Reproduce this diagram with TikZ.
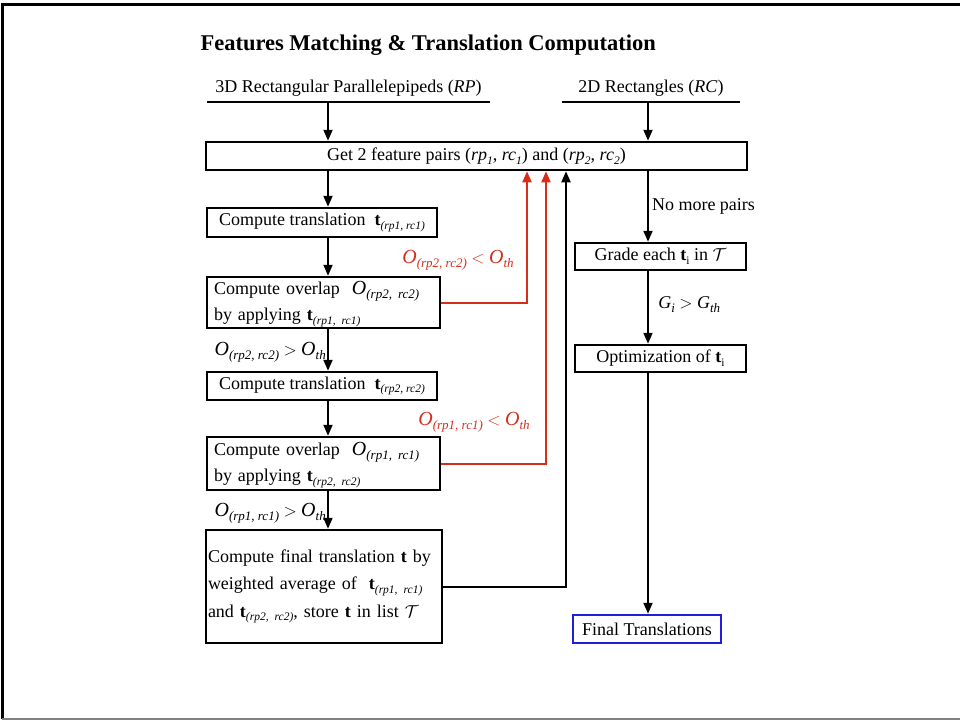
\documentclass[tikz,border=0pt]{standalone}
\usepackage{fontspec}
\setmainfont{Liberation Serif}
\usetikzlibrary{arrows.meta}
\definecolor{backred}{RGB}{215,45,25}
\definecolor{endblue}{RGB}{30,30,225}
\newcommand\lowsub[1]{\raisebox{-0.45ex}{\fontsize{11.5}{12}\selectfont\itshape #1}}
\newcommand\osub[1]{\raisebox{-0.45ex}{\fontsize{13}{14}\selectfont\itshape #1}}
\newcommand\tv{\textbf{t}}
\newcommand\Ov{{\fontsize{20}{22}\selectfont\textit{O}}}
\newcommand\Tlist{$\mathcal{T}$}
\tikzset{>={Triangle[length=11pt,width=9pt]}}
\tikzset{
  stepbox/.style={draw,line width=2.5pt,rectangle,inner sep=0pt},
  twoline/.style={stepbox,align=left,font=\fontsize{18}{26}\selectfont},
  flow/.style={->,line width=2pt},
  back/.style={->,line width=2pt,backred},
  condlbl/.style={inner sep=0pt}
}

\begin{document}
\begin{tikzpicture}[x=1pt,y=-1pt,font=\fontsize{18}{22}\selectfont]
    \useasboundingbox (0,0) rectangle (960,721);
    % frame
    \draw[line width=3pt] (960,4) -- (2,4) -- (2,719);
    \draw[line width=2pt,gray] (2,719) -- (960,719);
    \node[anchor=west,font=\fontsize{22.5}{26}\selectfont\bfseries] (title) at (197,45)
      {Features Matching \& Translation Computation};
    % inputs
    \node (rphead) at (348.5,88) {3D Rectangular Parallelepipeds (\textit{RP})};
    \node (rchead) at (651,88) {2D Rectangles (\textit{RC})};
    \draw[line width=2pt] (207,102) -- (490,102);
    \draw[line width=2pt] (562,102) -- (740,102);
    \coordinate (rpbar) at (328,102);
    \coordinate (rcbar) at (648,102);
    \coordinate (lx) at (328,0);
    \coordinate (rx) at (648,0);
    % boxes
    \node[stepbox,minimum width=541pt,minimum height=28pt] (getp) at (476.5,156)
      {Get 2 feature pairs (\textit{rp}\lowsub{1}, \textit{rc}\lowsub{1}) and (\textit{rp}\lowsub{2}, \textit{rc}\lowsub{2})};
    \node[stepbox,minimum width=230pt,minimum height=29pt] (tone) at (322,222.5)
      {Compute translation\ \ \tv\lowsub{(rp1, rc1)}};
    \node[twoline,text width=219pt,inner xsep=7pt,minimum height=51pt] (ovone) at (323.5,302.5)
      {\rule{0pt}{16pt}Compute overlap\ \ \Ov\osub{(rp2, rc2)}\\by applying \tv\lowsub{(rp1, rc1)}};
    \node[stepbox,minimum width=230pt,minimum height=28pt] (ttwo) at (322,386)
      {Compute translation\ \ \tv\lowsub{(rp2, rc2)}};
    \node[twoline,text width=219pt,inner xsep=7pt,minimum height=53pt] (ovtwo) at (323.5,463.5)
      {\rule{0pt}{16pt}Compute overlap\ \ \Ov\osub{(rp1, rc1)}\\by applying \tv\lowsub{(rp2, rc2)}};
    \node[stepbox,align=left,text width=232pt,inner xsep=2pt,minimum height=113pt,
      font=\fontsize{18}{27.5}\selectfont] (final) at (324,586.5)
      {Compute final translation \tv\ by\\weighted average of\ \ \tv\lowsub{(rp1, rc1)}\\and \tv\lowsub{(rp2, rc2)}, store \tv\ in list \Tlist\\[2pt]};
    \node[stepbox,minimum width=171pt,minimum height=27pt] (grade) at (660.5,256.5)
      {Grade each \tv\lowsub{\upshape i} in \Tlist};
    \node[stepbox,minimum width=171pt,minimum height=27pt] (optim) at (660.5,358.5)
      {Optimization of \tv\lowsub{\upshape i}};
    \node[stepbox,draw=endblue,minimum width=148pt,minimum height=28pt] (result) at (647,629)
      {Final Translations};
    % left column
    \draw[flow] (rpbar) -- (getp.north -| rpbar);
    \draw[flow] (getp.south -| lx) -- (tone.north -| lx);
    \draw[flow] (tone.south -| lx) -- (ovone.north -| lx);
    \draw[flow] (ovone.south -| lx) -- (ttwo.north -| lx);
    \draw[flow] (ttwo.south -| lx) -- (ovtwo.north -| lx);
    \draw[flow] (ovtwo.south -| lx) -- (final.north -| lx);
    \node[condlbl,anchor=east] (okone) at (326,352) {\Ov\osub{(rp2, rc2)} $>$ \Ov\osub{th}};
    \node[condlbl,anchor=east] (oktwo) at (326,513) {\Ov\osub{(rp1, rc1)} $>$ \Ov\osub{th}};
    % loops back
    \coordinate (ra) at (527,0);
    \coordinate (rb) at (546,0);
    \coordinate (rc) at (566,0);
    \draw[back] (ovone.east) -| (getp.south -| ra);
    \draw[back] (ovtwo.east) -| (getp.south -| rb);
    \draw[flow] (final.east) -| (getp.south -| rc);
    \node[condlbl,text=backred] (failone) at (458,260) {\Ov\osub{(rp2, rc2)} $<$ \Ov\osub{th}};
    \node[condlbl,text=backred] (failtwo) at (474,422) {\Ov\osub{(rp1, rc1)} $<$ \Ov\osub{th}};
    % right column
    \draw[flow] (rcbar) -- (getp.north -| rcbar);
    \draw[flow] (getp.south -| rx) -- (grade.north -| rx)
      node[midway,right,inner sep=3pt] (nomore) {No more pairs};
    \draw[flow] (grade.south -| rx) -- (optim.north -| rx)
      node[midway,right,xshift=6pt,yshift=3pt] (gcond) {\textit{G}\osub{i} $>$ \textit{G}\osub{th}};
    \draw[flow] (optim.south -| rx) -- (result.north -| rx);
\end{tikzpicture}
\end{document}
